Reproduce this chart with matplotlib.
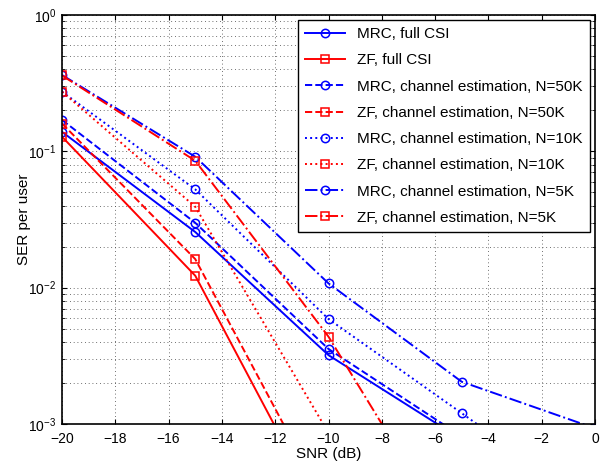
import numpy as np
import matplotlib.pyplot as plt

plt.rcParams['font.family'] = ['Liberation Sans', 'DejaVu Sans']
plt.rcParams['font.size'] = 10

snr = [-20, -15, -10, -5, 0]

mrc_full = [0.139, 0.0256, 0.0032, 7.7e-4, 1.9e-4]
zf_full = [0.128, 0.01224, 1.75e-4]
mrc_50k = [0.170, 0.0299, 0.00355, 8.1e-4, 1.9e-4]
zf_50k = [0.160, 0.0162, 2.4e-4]
mrc_10k = [0.274, 0.0526, 0.00589, 0.00120, 2.4e-4]
zf_10k = [0.274, 0.0392, 8.6e-4, 1.9e-5]
mrc_5k = [0.363, 0.0913, 0.01075, 0.00204, 9.3e-4]
zf_5k = [0.360, 0.0853, 0.00437, 1.1e-4]

series = [
    (mrc_full, 'b', '-', 'o', 'MRC, full CSI'),
    (zf_full, 'r', '-', 's', 'ZF, full CSI'),
    (mrc_50k, 'b', '--', 'o', 'MRC, channel estimation, N=50K'),
    (zf_50k, 'r', '--', 's', 'ZF, channel estimation, N=50K'),
    (mrc_10k, 'b', ':', 'o', 'MRC, channel estimation, N=10K'),
    (zf_10k, 'r', ':', 's', 'ZF, channel estimation, N=10K'),
    (mrc_5k, 'b', '-.', 'o', 'MRC, channel estimation, N=5K'),
    (zf_5k, 'r', '-.', 's', 'ZF, channel estimation, N=5K'),
]

fig = plt.figure(figsize=(6.1, 4.61), dpi=100)
ax = fig.add_axes([62/610, 1-424/461, (595-62)/610, (424-15)/461])

for vals, c, ls, mk, lab in series:
    ax.semilogy(snr[:len(vals)], vals, color=c, linestyle=ls, marker=mk,
                markerfacecolor='none', markersize=6, markeredgewidth=1.1,
                linewidth=1.4, label=lab)

ax.set_xlim(-20, 0)
ax.set_ylim(1e-3, 1)
ax.set_xticks(np.arange(-20, 1, 2))
ax.set_xlabel('SNR (dB)', fontsize=11, va='top')
ax.xaxis.set_label_coords(0.5, -0.057)
ax.set_ylabel('SER per user', fontsize=11, va='center')
ax.yaxis.set_label_coords(-0.072, 0.5)
grid_kw = dict(linestyle=(0, (1, 3.5)), color='0.25', linewidth=0.6)
ax.grid(True, which='major', **grid_kw)
ax.grid(True, which='minor', axis='y', **grid_kw)
ax.tick_params(which='both', direction='in', top=True, right=True)
ax.tick_params(axis='x', pad=6)
ax.tick_params(axis='y', pad=4)
for s in ax.spines.values():
    s.set_linewidth(1.2)

leg = ax.legend(loc='upper right', fancybox=False, edgecolor='k', fontsize=11,
                handlelength=2.6, labelspacing=0.8, borderaxespad=0.3,
                borderpad=0.5, framealpha=1)
leg.get_frame().set_linewidth(1.0)

fig.savefig('out.png', dpi=100)
